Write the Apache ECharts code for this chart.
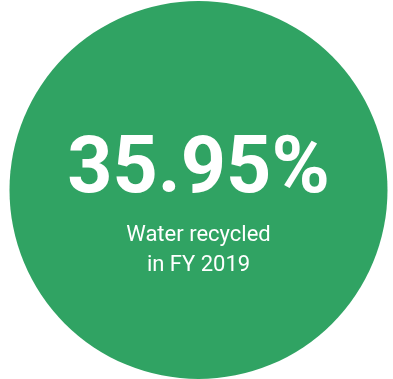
<!DOCTYPE html>
<html>
<head>
<meta charset="utf-8">
<script src="https://cdn.jsdelivr.net/npm/echarts@6/dist/echarts.min.js"></script>
<style>
  html, body { margin: 0; padding: 0; background: #fff; }
  #chart { width: 393px; height: 379px; }
</style>
</head>
<body>
<div id="chart"></div>
<script>
// headline figure and caption
const shareValue = 35.95;
const captionLines = ["Water recycled", "in FY 2019"];

const chart = echarts.init(document.getElementById("chart"));

const option = {
  animation: false,
  series: [
    {
      type: "pie",
      center: [198.5, 190],
      radius: [0, 189],
      silent: true,
      itemStyle: { color: "#30a363" },
      label: {
        show: true,
        position: "center",
        offset: [0, 12],
        formatter: () =>
          "{big|" + shareValue.toFixed(2) + "%}\n{small|" + captionLines.join("}\n{small|") + "}",
        rich: {
          big: {
            fontFamily: "Roboto",
            fontWeight: "bold",
            fontSize: 79,
            color: "#fff",
            lineHeight: 96
          },
          small: {
            fontFamily: "Roboto",
            fontSize: 22,
            color: "#fff",
            lineHeight: 30
          }
        }
      },
      labelLine: { show: false },
      data: [{ value: shareValue, name: "Water recycled" }]
    }
  ]
};

chart.setOption(option);
</script>
</body>
</html>
